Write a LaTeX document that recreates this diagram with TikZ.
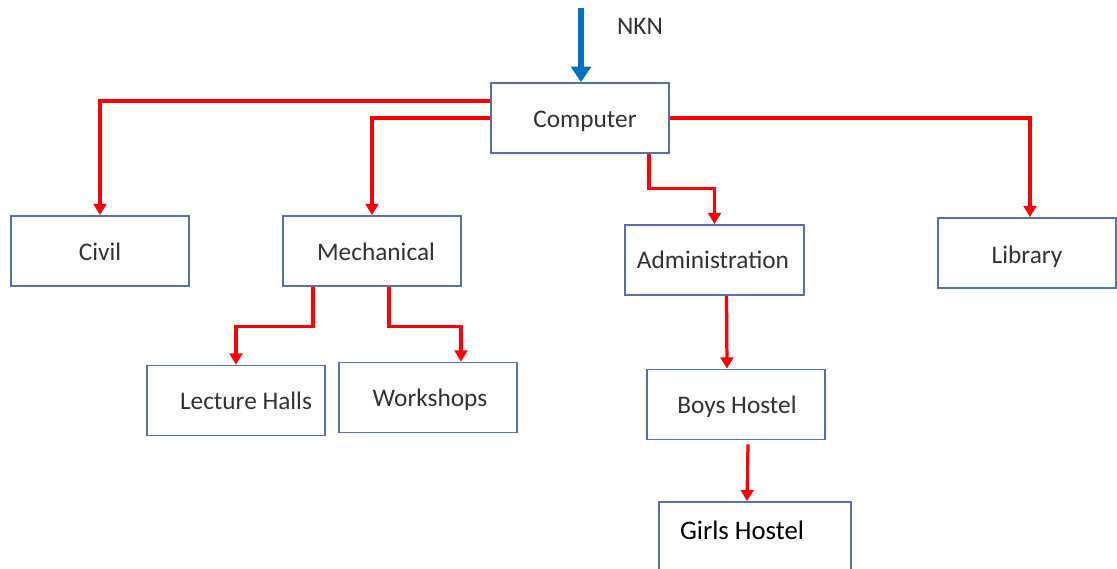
\documentclass[tikz,border=0pt]{standalone}
\usepackage{fontspec}
\setmainfont{Carlito}
\usepackage{xcolor}
\usepackage{tikz}
\usetikzlibrary{positioning,calc,arrows.meta}
\definecolor{boxblue}{RGB}{84,114,172}
\definecolor{feedblue}{RGB}{0,112,192}
\definecolor{labelgray}{RGB}{50,50,50}

\begin{document}
\begin{tikzpicture}[x=0.025cm,y=-0.025cm,
        box/.style={draw=boxblue, line width=1.2pt, minimum width=4.45cm, minimum height=1.75cm, inner sep=0pt},
        lbl/.style={text=labelgray, anchor=base, font=\fontsize{18}{21}\selectfont},
        link/.style={draw=red, line width=2.3pt, -{Triangle[length=8pt,width=9pt]}},
        feed/.style={draw=feedblue, line width=4.5pt, -{Triangle[length=11pt,width=14pt]}}]
        \useasboundingbox (0,0) rectangle (1117,569);

        % boxes
        \node[box] (comp) at (580,118) {};
        \node[box] (civil) at (100,251) {};
        \node[box] (mech) at (372,251) {};
        \node[box, minimum width=4.475cm] (admin) at (714.5,260) {};
        \node[box] (lib) at (1027,253) {};
        \node[box] (lect) at (236,400.5) {};
        \node[box] (work) at (428,397.5) {};
        \node[box] (boys) at (736,404.5) {};
        \node[box, minimum width=4.8cm] (girls) at (755,537) {};

        % texts
        \node[lbl] (comptext) at (585,128) {Computer};
        \node[lbl] (civiltext) at (100,261) {Civil};
        \node[lbl] (mechtext) at (376,261) {Mechanical};
        \node[lbl] (admintext) at (713,269) {Administration};
        \node[lbl] (libtext) at (1027,264) {Library};
        \node[lbl] (lecttext) at (246,410) {Lecture Halls};
        \node[lbl] (worktext) at (430,407) {Workshops};
        \node[lbl] (boystext) at (737,414) {Boys Hostel};
        \node[anchor=base, font=\fontsize{19}{22}\selectfont] (girlstext) at (742,539) {Girls Hostel};

        % NKN feed
        \coordinate (nkn) at (581,8);
        \node[lbl] (nkntext) at (640,35) {NKN};
        \draw[feed] (nkn) -- (comp.north -| nkn);

        % links from computer
        \draw[link] ([yshift=0.425cm]comp.west) -| (civil.north);
        \draw[link] (comp.west) -| (mech.north);
        \draw[link] (comp.east) -| ([xshift=0.075cm]lib.north);
        \draw[link] ([xshift=1.725cm]comp.south) -- ++(0,35) -| (admin.north);

        % mechanical
        \draw[link] ([xshift=-1.475cm]mech.south) -- ++(0,40) -| (lect.north);
        \draw[link] ([xshift=0.425cm]mech.south) -- ++(0,40) -| ([xshift=0.825cm]work.north);

        % hostels
        \draw[link] ([xshift=0.3cm]admin.south) -- ([xshift=-0.225cm]boys.north);
        \draw[link] ([xshift=0.3cm,yshift=-0.1cm]boys.south) -- ([xshift=-0.2cm]girls.north);
\end{tikzpicture}
\end{document}
